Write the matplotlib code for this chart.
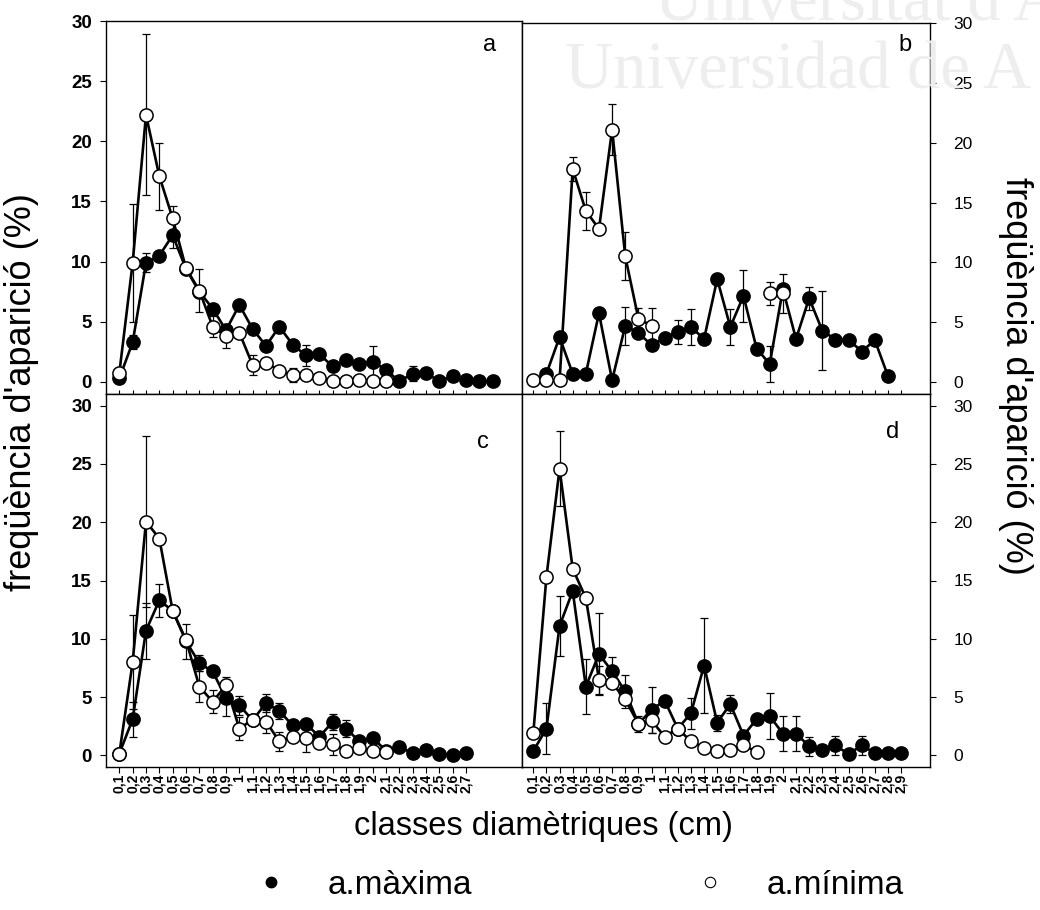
import numpy as np
import matplotlib
matplotlib.use("Agg")
import matplotlib.pyplot as plt
from matplotlib.lines import Line2D

plt.rcParams['font.family'] = ['Liberation Sans', 'DejaVu Sans']

nan = np.nan

# diameter classes (cm)
classes = [0.1, 0.2, 0.3, 0.4, 0.5, 0.6, 0.7, 0.8, 0.9, 1.0,
           1.1, 1.2, 1.3, 1.4, 1.5, 1.6, 1.7, 1.8, 1.9, 2.0,
           2.1, 2.2, 2.3, 2.4, 2.5, 2.6, 2.7, 2.8, 2.9]
n_left_labels = 27   # left column labelled up to 2,7
n_right_labels = 29  # right column labelled up to 2,9

# panel a
a_max = [0.3, 3.3, 9.9, 10.5, 12.2, 9.4, 7.5, 6.1, 4.3, 6.4, 4.4, 3.0, 4.6, 3.1, 2.2,
         2.3, 1.3, 1.8, 1.5, 1.7, 1.0, 0.05, 0.7, 0.75, 0.05, 0.5, 0.15, 0.1, 0.05]
a_max_err = [nan, 0.6, 0.8, nan, 1.1, nan, nan, nan, nan, nan, nan, nan, nan, nan, 0.9,
             nan, nan, nan, nan, 1.3, nan, nan, 0.6, nan, nan, nan, nan, nan, nan]
a_min = [0.75, 9.9, 22.2, 17.1, 13.6, 9.45, 7.6, 4.6, 3.8, 4.1, 1.4, 1.6, 0.95, 0.6, 0.6,
         0.35, 0.1, 0.1, 0.2, 0.1, 0.1]
a_min_err = [nan, 4.9, 6.7, 2.8, 1.0, nan, 1.8, 0.9, 1.0, nan, 0.85, nan, nan, 0.6, nan,
             nan, nan, nan, nan, nan, nan]

# panel b
b_max = [nan, 0.7, 3.75, 0.7, 0.7, 5.75, 0.15, 4.7, 4.1, 3.1, 3.7, 4.2, 4.6, 3.6, 8.6,
         4.6, 7.2, 2.8, 1.5, 7.75, 3.6, 7.0, 4.3, 3.55, 3.55, 2.55, 3.5, 0.5]
b_max_err = [nan, nan, nan, nan, nan, 0.4, nan, 1.6, nan, nan, nan, 1.0, 1.5, nan, nan,
             1.5, 2.2, nan, 1.5, nan, nan, 0.95, 3.3, nan, nan, 0.3, nan, nan]
b_min = [0.15, 0.15, 0.15, 17.8, 14.3, 12.8, 21.1, 10.5, 5.3, 4.7,
         nan, nan, nan, nan, nan, nan, nan, nan, 7.4, 7.4]
b_min_err = [nan, nan, nan, 1.0, 1.6, nan, 2.1, 2.0, 0.9, 1.5,
             nan, nan, nan, nan, nan, nan, nan, nan, 1.0, 1.6]

# panel c
c_max = [0.15, 3.1, 10.7, 13.3, 12.4, 9.8, 7.9, 7.2, 4.9, 4.3, 3.0, 4.5, 3.8, 2.57,
         2.7, 1.6, 2.86, 2.3, 1.2, 1.5, 0.4, 0.7, 0.2, 0.43, 0.15, 0.05, 0.23]
c_max_err = [nan, 1.5, 2.4, 1.4, nan, 1.5, 0.7, nan, 1.5, 0.8, nan, 0.8, 0.7, nan,
             nan, nan, 0.7, 0.7, nan, nan, nan, nan, nan, nan, nan, nan, nan]
c_min = [0.15, 8.0, 20.06, 18.6, 12.4, 9.9, 5.9, 4.6, 6.0, 2.3, 3.06, 2.9, 1.2, 1.6,
         1.5, 1.1, 0.95, 0.4, 0.6, 0.4, 0.3]
c_min_err = [nan, 4.0, 7.3, nan, nan, nan, 1.3, 1.0, 0.7, 1.0, nan, 1.0, 0.8, nan,
             1.2, nan, 0.9, nan, nan, nan, nan]

# panel d
d_max = [0.37, 2.3, 11.1, 14.1, 5.9, 8.7, 7.2, 5.5, 2.7, 3.9, 4.7, 2.3, 3.6, 7.7, 2.8,
         4.4, 1.7, 3.1, 3.36, 1.87, 1.87, 0.78, 0.5, 0.86, 0.1, 0.86, 0.2, 0.2, 0.2]
d_max_err = [nan, 2.2, 2.6, nan, 2.35, 3.5, 1.2, 1.4, nan, 2.0, nan, nan, 1.3, 4.1, 0.7,
             0.8, nan, nan, 1.95, 1.5, 1.5, 0.8, nan, 0.8, nan, 0.8, nan, nan, nan]
d_min = [1.9, 15.3, 24.6, 16.0, 13.5, 6.5, 6.2, 4.8, 2.7, 3.0, 1.6, 2.3, 1.2, 0.66,
         0.35, 0.5, 0.86, 0.3]
d_min_err = [nan, nan, 3.2, nan, nan, 1.2, nan, nan, 0.7, 1.1, 0.3, nan, nan, nan,
             nan, nan, nan, nan]

yticks = [0, 5, 10, 15, 20, 25, 30]

W, H = 1040, 910
fig = plt.figure(figsize=(W / 100, H / 100), dpi=100)


def add_panel(left, top, right, bottom):
    return fig.add_axes([left / W, 1 - bottom / H, (right - left) / W, (bottom - top) / H])


ax_a = add_panel(106, 21, 522, 394)
ax_b = add_panel(522, 23, 930, 394)
ax_c = add_panel(106, 394, 522, 767)
ax_d = add_panel(522, 394, 930, 767)


def draw_series(ax, vals, errs, filled):
    x = np.array(classes[:len(vals)])
    y = np.array(vals, dtype=float)
    e = np.array(errs, dtype=float)
    ok = np.isfinite(e) & np.isfinite(y)
    z = 3 if filled else 4
    ax.errorbar(x[ok], y[ok], yerr=e[ok], fmt='none', ecolor='k', elinewidth=0.9,
                capsize=3, capthick=0.9, zorder=z - 0.5)
    ax.plot(x, y, '-o', color='k', lw=1.9, ms=9.5, mec='k', mew=1.1,
            mfc='k' if filled else 'white', zorder=z)


def tick_label(v):
    return f"{v:g}".replace('.', ',')


panels = [
    (ax_a, a_max, a_max_err, a_min, a_min_err, 'a', (490, 45), 'left', (0.0, 3.12), (-1, 30)),
    (ax_b, b_max, b_max_err, b_min, b_min_err, 'b', (905, 45), 'right', (0.014, 3.12), (-1, 30)),
    (ax_c, c_max, c_max_err, c_min, c_min_err, 'c', (483, 442), 'left', (0.0, 3.12), (-1, 31)),
    (ax_d, d_max, d_max_err, d_min, d_min_err, 'd', (893, 432), 'right', (0.014, 3.12), (-1, 31)),
]

for ax, vmax, emax, vmin, emin, letter, lpos, side, xl, yl in panels:
    draw_series(ax, vmax, emax, True)
    draw_series(ax, vmin, emin, False)
    ax.set_xlim(*xl)
    ax.set_ylim(*yl)
    ax.set_yticks(yticks)
    for sp in ax.spines.values():
        sp.set_linewidth(1.0)
    if side == 'left':
        ax.tick_params(axis='y', left=True, right=False, labelleft=True, labelright=False,
                       direction='out', length=4, width=0.8, pad=6)
        for lab in ax.get_yticklabels():
            lab.set_fontsize(13.5)
            lab.set_fontweight('bold')
        nlab = n_left_labels
    else:
        ax.tick_params(axis='y', left=False, right=True, labelleft=False, labelright=True,
                       direction='out', length=4, width=0.8, pad=13)
        for lab in ax.get_yticklabels():
            lab.set_fontsize(12.5)
        nlab = n_right_labels
    ax.set_xticks(classes[:nlab])
    if ax in (ax_c, ax_d):
        ax.set_xticklabels([tick_label(v) for v in classes[:nlab]], rotation=90,
                           fontsize=10, fontweight='bold')
        ax.tick_params(axis='x', direction='out', length=4, width=0.8, pad=1)
    else:
        ax.tick_params(axis='x', direction='in', length=3, width=0.8, labelbottom=False)
    fig.text(lpos[0] / W, 1 - lpos[1] / H, letter, fontsize=17, ha='center', va='center')

# axis titles
fig.text(22 / W, 1 - 392 / H, "freqüència d'aparició (%)", rotation=90,
         fontsize=26, ha='center', va='center')
fig.text(1016 / W, 1 - 376 / H, "freqüència d'aparició (%)", rotation=270,
         fontsize=26, ha='center', va='center')
fig.text(543 / W, 1 - 826 / H, "classes diamètriques (cm)", fontsize=23.5,
         ha='center', va='center')

# legend
handles = [
    Line2D([], [], ls='none', marker='o', ms=7.5, color='k', mfc='k'),
    Line2D([], [], ls='none', marker='o', ms=7.5, color='k', mfc='white', mew=0.8),
]
fig.legend(handles, ['a.màxima', 'a.mínima'], loc='center', ncol=2,
           bbox_to_anchor=(579 / W, 1 - 885 / H), frameon=False, fontsize=24,
           handlelength=1.0, handletextpad=1.2, columnspacing=6.66,
           borderpad=0, borderaxespad=0)

# repository watermark
fig.text(655 / W, 1 - 20 / H, "Universitat d'A", family='Liberation Serif',
         fontsize=48, color='#eeeeee', ha='left', va='baseline', zorder=0)
fig.text(565 / W, 1 - 88 / H, "Universidad de A", family='Liberation Serif',
         fontsize=48, color='#eeeeee', ha='left', va='baseline', zorder=0)

fig.savefig("out.png", dpi=100, facecolor='white')
